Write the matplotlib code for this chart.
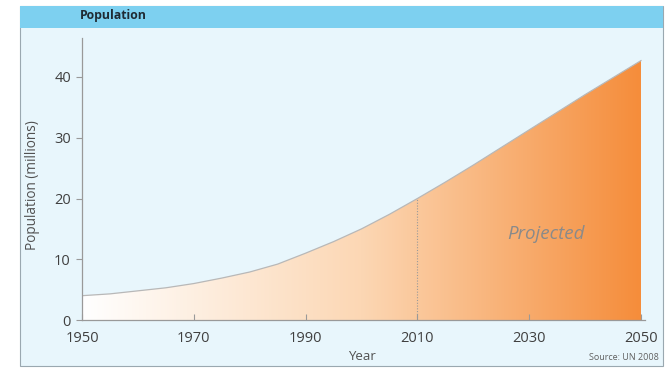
import numpy as np
import matplotlib
matplotlib.use("Agg")
import matplotlib.pyplot as plt
from matplotlib.patches import Rectangle
from matplotlib.colors import LinearSegmentedColormap

years = [1950, 1955, 1960, 1965, 1970, 1975, 1980, 1985, 1990, 1995, 2000, 2005, 2010,
         2015, 2020, 2025, 2030, 2035, 2040, 2045, 2050]
population = [4.0, 4.3, 4.8, 5.3, 6.0, 6.9, 7.9, 9.2, 11.0, 12.9, 15.0, 17.4, 20.0,
              22.7, 25.5, 28.4, 31.3, 34.2, 37.1, 39.9, 42.7]
xticks = [1950, 1970, 1990, 2010, 2030, 2050]
yticks = [0, 10, 20, 30, 40]

W, H = 669, 368
fig = plt.figure(figsize=(W / 100, H / 100), dpi=100)
plt.rcParams['font.family'] = ['Open Sans', 'DejaVu Sans']

def fx(p):
    return p / W

def fy(p):
    return 1 - p / H

# frame background
fig.patches.append(Rectangle((fx(20), fy(366)), fx(663 - 20), (366 - 6) / H,
                             transform=fig.transFigure, facecolor='#e8f6fc',
                             edgecolor='#9aa8b0', linewidth=0.8, zorder=-3))
fig.patches.append(Rectangle((fx(20), fy(28)), fx(663 - 20), (28 - 6) / H,
                             transform=fig.transFigure, facecolor='#7dd0f0',
                             edgecolor='none', zorder=-2))
fig.text(fx(80), fy(16), 'Population', fontsize=8.8, fontweight='bold',
         color='#1f2a33', va='center', ha='left')

ax = fig.add_axes([fx(82), fy(320), fx(645 - 82), (320 - 38) / H])
ax.set_zorder(2)
ax.set_facecolor('none')
x0, x1 = 1950, 1950 + (645 - 82) / 5.59
y1 = (320 - 38) / 6.075

yrs = np.array(years, dtype=float)
pop = np.array(population, dtype=float)

cmap = LinearSegmentedColormap.from_list('g', ['#ffffff', '#fcd7b4', '#f58d3b'])
grad = np.linspace(0, 1, 256).reshape(1, -1)
im = ax.imshow(grad, extent=[1950, 2050, 0, 50], aspect='auto', cmap=cmap,
               origin='lower', zorder=1)
poly = ax.fill_between(yrs, 0, pop, facecolor='none', edgecolor='none')
path = poly.get_paths()[0]
im.set_clip_path(path, transform=ax.transData)
ax.set_xlim(x0, x1)
ax.set_ylim(0, y1)
ax.plot(yrs, pop, color='#b8b8b8', linewidth=0.9, zorder=2)

i2010 = years.index(2010)
ax.plot([2010, 2010], [0, population[i2010]], color='#9a9a9a', linewidth=0.8,
        linestyle=(0, (1, 1.5)), zorder=3)

ax.text(2033, 14.2, 'Projected', fontsize=13.5, style='italic', color='#8a8a8a',
        ha='center', va='center', zorder=4)

for s in ['top', 'right']:
    ax.spines[s].set_visible(False)
for s in ['left', 'bottom']:
    ax.spines[s].set_color('#999999')
    ax.spines[s].set_linewidth(0.9)

ax.set_xticks(xticks)
ax.set_yticks(yticks)
ax.tick_params(axis='x', direction='in', length=4, color='#999999',
               labelsize=10.5, labelcolor='#404040', pad=8)
ax.tick_params(axis='y', direction='out', length=4.5, color='#999999',
               labelsize=10.5, labelcolor='#404040', pad=3.5)

fig.text(fx(362), fy(357), 'Year', fontsize=9.5, color='#505050', ha='center', va='center')
fig.text(fx(32), fy(185), 'Population (millions)', fontsize=9.8, color='#505050',
         ha='center', va='center', rotation=90)
fig.text(fx(659), fy(358), 'Source: UN 2008', fontsize=6.5, color='#606060',
         ha='right', va='center')

fig.savefig('out.png', dpi=100)
